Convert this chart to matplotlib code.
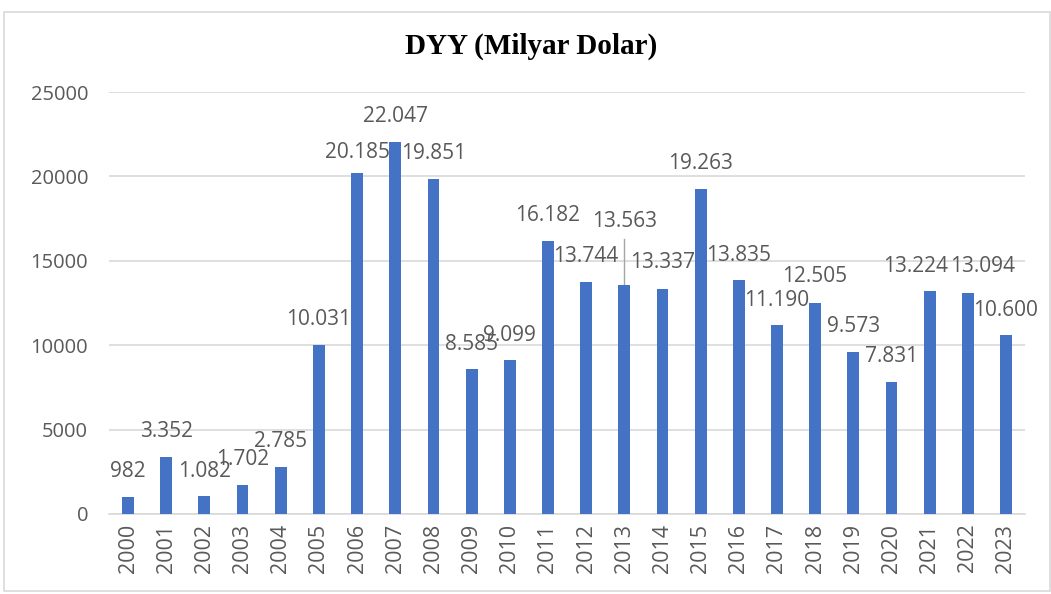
import matplotlib.pyplot as plt
from matplotlib.patches import Rectangle
import numpy as np

years = [str(y) for y in range(2000, 2024)]
values = [982, 3352, 1082, 1702, 2785, 10031, 20185, 22047, 19851, 8585, 9099, 16182,
          13744, 13563, 13337, 19263, 13835, 11190, 12505, 9573, 7831, 13224, 13094, 10600]
labels = ['982', '3.352', '1.082', '1.702', '2.785', '10.031', '20.185', '22.047', '19.851',
          '8.585', '9.099', '16.182', '13.744', '13.563', '13.337', '19.263', '13.835',
          '11.190', '12.505', '9.573', '7.831', '13.224', '13.094', '10.600']

# where the data labels sit (they were dragged around in the original)
label_dx = [0] * 21 + [-0.38, 0.40, 0]
label_y = [2506, 4876, 2506, 3240, 4283, 11534, 21445, 23578, 21385, 10012, 10604, 17713,
           15284, 17316, 14888, 20776, 15343, 12677, 14058, 11096, 9318, 14692, 14692, 12085]

blue = '#4472C4'
grey = '#595959'
plt.rcParams['font.family'] = ['Open Sans', 'DejaVu Sans']

fig = plt.figure(figsize=(10.51, 5.94), dpi=100)
ax = fig.add_axes([0.1037, 0.1347, 0.8716, 0.7104])

x = np.arange(len(years))
ax.bar(x, values, width=0.31, color=blue, zorder=3)

for i in range(len(x)):
    ax.text(x[i] + label_dx[i], label_y[i], labels[i], ha='center', va='center',
            fontsize=15, color=grey, zorder=4)

# leader line for 2013
ax.plot([13, 13], [values[13], 16300], color='#A6A6A6', lw=1, zorder=2)

ax.set_xlim(-0.5, len(years) - 0.5)
ax.set_ylim(0, 25000)
ax.set_yticks(np.arange(0, 25001, 5000))
ax.set_xticks(x)
ax.set_xticklabels(years, rotation=90)
ax.tick_params(axis='both', length=0, colors=grey, labelsize=14.5)
ax.tick_params(axis='y', pad=15)
ax.tick_params(axis='x', pad=7, labelsize=15.5)
ax.yaxis.grid(True, color='#D9D9D9', lw=1.2, zorder=0)
for s in ['top', 'right', 'left']:
    ax.spines[s].set_visible(False)
ax.spines['bottom'].set_color('#D9D9D9')
ax.spines['bottom'].set_linewidth(1.2)

fig.text(0.505, 0.922, 'DYY (Milyar Dolar)', ha='center', va='center', fontsize=21,
         fontweight='bold', family='Liberation Serif')

fig.patches.append(Rectangle((0.004, 0.005), 0.995, 0.975, transform=fig.transFigure,
                             fill=False, edgecolor='#D9D9D9', lw=1.2))

fig.savefig('out.png', dpi=100)
